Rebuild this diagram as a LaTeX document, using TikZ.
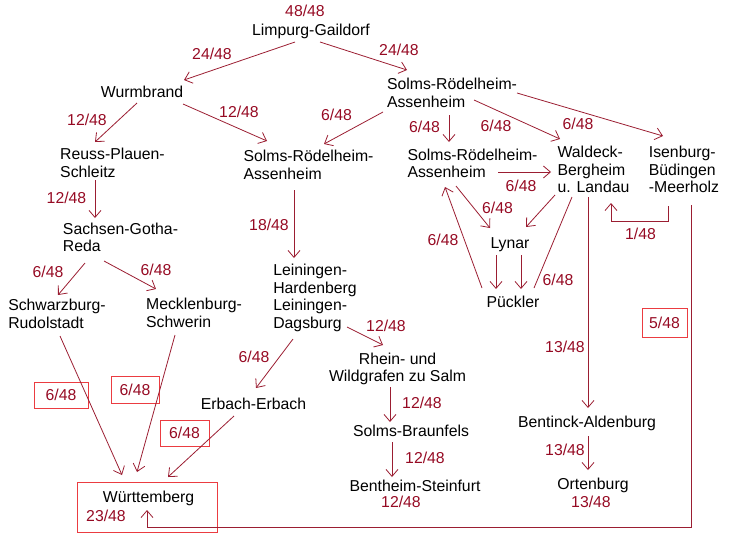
\documentclass[tikz,border=0pt]{standalone}
\usepackage{fontspec}
\setmainfont{Liberation Sans}
\usepackage{tikz}
\usetikzlibrary{arrows.meta}
\usepackage{xcolor}
\definecolor{sharered}{RGB}{150,10,35}
\definecolor{linered}{RGB}{155,30,50}
\definecolor{boxred}{RGB}{235,60,65}
\tikzstyle{house}=[font=\fontsize{15.8}{17.5}\selectfont, inner sep=1pt, text=black]
\tikzstyle{share}=[font=\fontsize{15.8}{17.5}\selectfont, inner sep=1pt, text=sharered]
\tikzstyle{sharebox}=[share, draw=boxred, line width=0.8pt, inner sep=0pt]
\tikzstyle{descent}=[draw=linered, line width=0.8pt, -{Straight Barb[length=7pt,width=12pt]}]

\begin{document}
\begin{tikzpicture}[x=1pt,y=-1pt]
		\useasboundingbox (0,0) rectangle (730,539);
		\node[house] (limpurg) at (311,31.6) {Limpurg-Gaildorf};
		\node[house] (wurm) at (142,92) {Wurmbrand};
		\node[house, align=left] (reuss) at (112.5,163) {Reuss-Plauen-\\Schleitz};
		\node[house, align=left] (sachsen) at (120.5,237.5) {Sachsen-Gotha-\\Reda};
		\node[house, align=left] (schwarz) at (57,314) {Schwarzburg-\\Rudolstadt};
		\node[house, align=left] (meckl) at (194,313) {Mecklenburg-\\Schwerin};
		\node[house, align=left] (solmsM) at (308.5,165) {Solms-Rödelheim-\\Assenheim};
		\node[house, align=left] (lein) at (315,298) {Leiningen-\\Hardenberg\\Leiningen-\\Dagsburg};
		\node[house] (erbach) at (253.5,404) {Erbach-Erbach};
		\node[house, align=left] (solmsT) at (452,93) {Solms-Rödelheim-\\Assenheim};
		\node[house, align=left] (solmsR) at (472.5,163.5) {Solms-Rödelheim-\\Assenheim};
		\node[house, align=left] (waldeck) at (593.5,169.5) {Waldeck-\\Bergheim\\u. Landau};
		\node[house, align=left] (isen) at (684,169.5) {Isenburg-\\Büdingen\\-Meerholz};
		\node[house] (lynar) at (510,245) {Lynar};
		\node[house] (pueckler) at (513,302) {Pückler};
		\node[house, align=center] (rhein) at (397.5,369) {Rhein- und\\Wildgrafen zu Salm};
		\node[house] (sbraun) at (411,431) {Solms-Braunfels};
		\node[house] (benth) at (415,486) {Bentheim-Steinfurt};
		\node[house] (bentinck) at (587,423.6) {Bentinck-Aldenburg};
		\node[house] (orten) at (593,485.6) {Ortenburg};
		\node[sharebox, minimum width=140pt, minimum height=50pt] (wbox) at (147,507) {};
		\node[house] (wuertt) at (148.5,498.6) {Württemberg};

		\node[share] (s0) at (305,11) {48/48};
		\node[share] (s1) at (212,54) {24/48};
		\node[share] (s2) at (399,50) {24/48};
		\node[share] (s3) at (87,120) {12/48};
		\node[share] (s4) at (239,112) {12/48};
		\node[share] (s5) at (336.5,115) {6/48};
		\node[share] (s6) at (424.5,127) {6/48};
		\node[share] (s7) at (496,126) {6/48};
		\node[share] (s8) at (578,124) {6/48};
		\node[share] (s9) at (521,186) {6/48};
		\node[share] (s10) at (497.5,208) {6/48};
		\node[share] (s11) at (443,240) {6/48};
		\node[share] (s12) at (558,280) {6/48};
		\node[share] (s13) at (640.5,234) {1/48};
		\node[share] (s14) at (66.5,198) {12/48};
		\node[share] (s15) at (48,272) {6/48};
		\node[share] (s16) at (156,270) {6/48};
		\node[share] (s17) at (269,225) {18/48};
		\node[share] (s18) at (254,357) {6/48};
		\node[share] (s19) at (386,326) {12/48};
		\node[share] (s20) at (422,403) {12/48};
		\node[share] (s21) at (425,458) {12/48};
		\node[share] (s22) at (401,502) {12/48};
		\node[share] (s23) at (565,347) {13/48};
		\node[share] (s24) at (565,450) {13/48};
		\node[share] (s25) at (591,502) {13/48};
		\node[share] (s26) at (106,516) {23/48};
		\node[sharebox, minimum width=54pt, minimum height=26pt] (b1) at (61,395) {6/48};
		\node[sharebox, minimum width=48pt, minimum height=27pt] (b2) at (135,389.5) {6/48};
		\node[sharebox, minimum width=49pt, minimum height=26pt] (b3) at (184.5,433) {6/48};
		\node[sharebox, minimum width=45pt, minimum height=29pt] (b4) at (664.5,322.5) {5/48};

		\draw[descent] ([shift={(-16,10.4)}]limpurg.center) -- ([shift={(42,-12)}]wurm.center);
		\draw[descent] ([shift={(9,10.4)}]limpurg.center) -- ([shift={(-45,-23)}]solmsT.center);
		\draw[descent] ([shift={(-5,11)}]wurm.center) -- ([shift={(-17.5,-21)}]reuss.center);
		\draw[descent] ([shift={(41,12)}]wurm.center) -- ([shift={(-41.5,-24)}]solmsM.center);
		\draw[descent] ([shift={(-69,19)}]solmsT.center) -- ([shift={(15.5,-21)}]solmsM.center);
		\draw[descent] ([shift={(-3,22)}]solmsT.center) -- ([shift={(-23.5,-21.5)}]solmsR.center);
		\draw[descent] ([shift={(22,7)}]solmsT.center) -- ([shift={(-33.5,-30.5)}]waldeck.center);
		\draw[descent] ([shift={(65,0)}]solmsT.center) -- ([shift={(-21,-33.5)}]isen.center);
		\draw[descent] ([shift={(25.5,8.5)}]solmsR.center) -- ([shift={(-42.5,2.5)}]waldeck.center);
		\draw[descent] ([shift={(-16.5,22.5)}]solmsR.center) -- ([shift={(-20,-17)}]lynar.center);
		\draw[descent] ([shift={(-31,-14)}]pueckler.center) -- ([shift={(-27.5,23.5)}]solmsR.center);
		\draw[descent] ([shift={(-38.5,25.5)}]waldeck.center) -- ([shift={(16,-18)}]lynar.center);
		\draw[descent, -] ([shift={(-21.5,27.5)}]waldeck.center) -- ([shift={(21,-14)}]pueckler.center);
		\draw[descent] ([shift={(-14,10)}]lynar.center) -- ([shift={(-17,-13)}]pueckler.center);
		\draw[descent] ([shift={(11,10)}]lynar.center) -- ([shift={(8,-13)}]pueckler.center);
		\draw[descent] ([shift={(-16,36.5)}]isen.center) -- ++(0,15) -| ([shift={(17.5,33.5)}]waldeck.center);
		\draw[descent] ([shift={(7,35.5)}]isen.center) |- ([shift={(-1.5,28.4)}]wuertt.center) -- ([shift={(-1.5,11.4)}]wuertt.center);
		\draw[descent] ([shift={(-5.5,27.5)}]waldeck.center) -- ([shift={(1,-15.6)}]bentinck.center);
		\draw[descent] ([shift={(1,12.4)}]bentinck.center) -- ([shift={(-5,-15.6)}]orten.center);
		\draw[descent] ([shift={(-17.5,17)}]reuss.center) -- ([shift={(-25.5,-19.5)}]sachsen.center);
		\draw[descent] ([shift={(-35.5,25.5)}]sachsen.center) -- ([shift={(1,-19)}]schwarz.center);
		\draw[descent] ([shift={(-16.5,23.5)}]sachsen.center) -- ([shift={(-38,-24)}]meckl.center);
		\draw[descent] ([shift={(-14.5,25)}]solmsM.center) -- ([shift={(-21,-40)}]lein.center);
		\draw[descent] ([shift={(-22,41)}]lein.center) -- ([shift={(2.5,-16)}]erbach.center);
		\draw[descent] ([shift={(32,29)}]lein.center) -- ([shift={(-14.5,-24)}]rhein.center);
		\draw[descent] ([shift={(-7.5,18)}]rhein.center) -- ([shift={(-21,-9)}]sbraun.center);
		\draw[descent] ([shift={(-19,11)}]sbraun.center) -- ([shift={(-23,-9)}]benth.center);
		\draw[descent] ([shift={(3,22)}]schwarz.center) -- ([shift={(-26.5,-23.6)}]wuertt.center);
		\draw[descent] ([shift={(-19,22)}]meckl.center) -- ([shift={(-11.5,-26.6)}]wuertt.center);
		\draw[descent] ([shift={(-19.5,12)}]erbach.center) -- ([shift={(19.5,-21.6)}]wuertt.center);
	\end{tikzpicture}
\end{document}
